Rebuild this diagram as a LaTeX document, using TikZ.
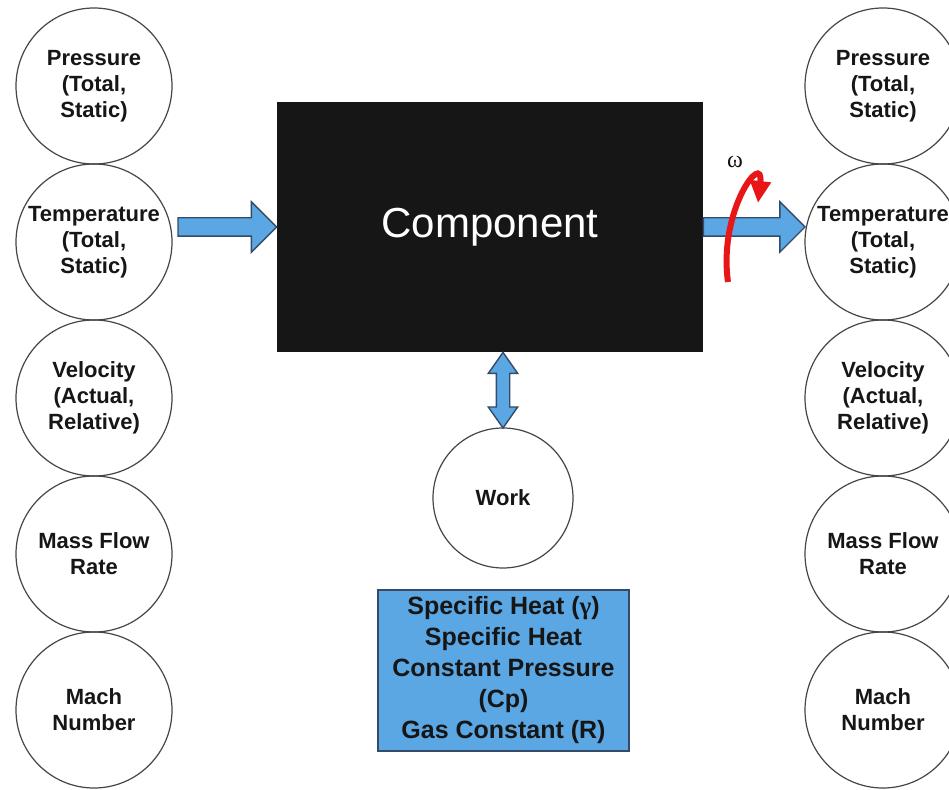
\documentclass[tikz,border=0pt]{standalone}
\usepackage{fontspec}
\setmainfont{Liberation Sans}
\newfontfamily\greekserif{Liberation Serif}
\usetikzlibrary{positioning, shapes.arrows, arrows.meta, calc}
\definecolor{flowblue}{RGB}{91,167,228}
\definecolor{flowedge}{RGB}{52,74,104}
\definecolor{ink}{RGB}{22,22,22}
\definecolor{rim}{RGB}{70,70,70}
\definecolor{spin}{RGB}{232,22,22}

\begin{document}
\begin{tikzpicture}[x=0.5pt, y=-0.5pt,
  state/.style={circle, draw=rim, line width=0.6pt, minimum size=78pt,
                inner sep=0pt, outer sep=0pt, align=center, text=ink,
                font=\bfseries\fontsize{11}{13}\selectfont},
  flow/.style={single arrow, draw=flowedge, fill=flowblue, line width=0.7pt,
               inner xsep=0pt, inner ysep=4.25pt, single arrow head extend=8pt,
               single arrow tip angle=90, outer sep=0pt, anchor=tail},
  swap/.style={double arrow, draw=flowedge, fill=flowblue, line width=0.7pt,
               inner xsep=0pt, inner ysep=3pt, double arrow head extend=4pt,
               double arrow tip angle=70, outer sep=0pt},
]
  \fill[white] (0,0) rectangle (949,790);
  \useasboundingbox (0,0) rectangle (949,790);

  % inlet states
  \node[state] (pl) at (94,86) {Pressure\\(Total,\\Static)};
  \node[state, below=0pt of pl] (tl) {Temperature\\(Total,\\Static)};
  \node[state, below=0pt of tl] (vl) {Velocity\\(Actual,\\Relative)};
  \node[state, below=0pt of vl] (ml) {Mass Flow\\Rate};
  \node[state, below=0pt of ml] (nl) {Mach\\Number};

  % outlet states
  \node[state] (pr) at (883,86) {Pressure\\(Total,\\Static)};
  \node[state, below=0pt of pr] (tr) {Temperature\\(Total,\\Static)};
  \node[state, below=0pt of tr] (vr) {Velocity\\(Actual,\\Relative)};
  \node[state, below=0pt of vr] (mr) {Mass Flow\\Rate};
  \node[state, below=0pt of mr] (nr) {Mach\\Number};

  \node[fill=ink, minimum width=213pt, minimum height=125pt, text=white,
        font=\fontsize{21}{25}\selectfont] (comp) at (490,227) {Component};

  \node[state, minimum size=70pt] (work) at (503,498) {Work};

  \node[fill=flowblue, draw=flowedge, line width=0.7pt, minimum width=125.5pt,
        minimum height=80.5pt, align=center, text=ink,
        font=\bfseries\fontsize{12.5}{15.5}\selectfont] (props) at (503.5,670.5)
    {Specific Heat ({\greekserif γ})\\Specific Heat\\Constant Pressure\\(Cp)\\Gas Constant (R)};

  % flow arrows
  \coordinate (inlet) at ($(tl.east |- comp.west)+(6,0)$);
  \coordinate (outlet) at (tr.west |- comp.east);
  \path let \p1=(inlet), \p2=(comp.west) in
    node[flow, minimum height={\x2-\x1}] (inflow) at (\p1) {};
  \path let \p1=(comp.east), \p2=(outlet) in
    node[flow, minimum height={\x2-\x1}] (outflow) at (\p1) {};
  \path let \p1=(work.north |- comp.south), \p2=(work.north) in
    node[swap, rotate=90, minimum height={\y1-\y2}] (exchange) at ($(\p1)!.5!(\p2)$) {};

  % shaft rotation
  \draw[spin, line width=3pt, -{Triangle[length=11pt, width=10pt]}]
    (728,282) .. controls (718,210) and (764,150) .. (758,203);
  \node[text=ink, font=\greekserif\fontsize{12}{14}\selectfont] (omega) at (735,162) {ω};
\end{tikzpicture}
\end{document}
